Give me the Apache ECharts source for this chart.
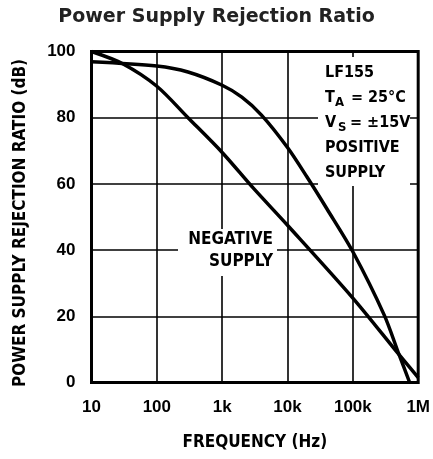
<!DOCTYPE html>
<html>
<head>
<meta charset="utf-8">
<script src="https://cdn.jsdelivr.net/npm/echarts@6/dist/echarts.min.js"></script>
</head>
<body style="margin:0;background:#fff">
<div id="container" style="width:433px;height:459px;"></div>
<script>
// decade ticks on the frequency axis
var freqTicks = [10, 100, 1000, 10000, 100000, 1000000];
var freqTickLabels = ['10', '100', '1k', '10k', '100k', '1M'];

// positive supply curve (Hz, dB)
var positiveFreq = [10, 100, 300, 1000, 2000, 4000, 10000, 20000, 40000, 100000, 300000, 510000, 740000];
var positiveDb = [96.9, 95.6, 93.8, 89.8, 86.2, 80.8, 71, 62, 52.5, 39.5, 20.5, 8.4, 0];

// negative supply curve (Hz, dB)
var negativeFreq = [10, 30, 100, 300, 1000, 3000, 10000, 100000, 510000, 1000000];
var negativeDb = [100, 96.3, 89.5, 80, 69.5, 58.7, 47.5, 25.5, 8.4, 1.5];

var condensed = 'DejaVu Sans Condensed';
var tickFont = 'Liberation Sans';

function pairs(xs, ys) {
    var out = [];
    for (var i = 0; i < xs.length; i++) out.push([xs[i], ys[i]]);
    return out;
}

function label(text, x, y, size, align) {
    return {
        type: 'text', x: x, y: y, z: 1,
        style: {
            text: text, fill: '#000', font: 'bold ' + size + 'px "' + condensed + '"',
            align: align || 'left', verticalAlign: 'middle'
        }
    };
}

var chart = echarts.init(document.getElementById('container'), null, { renderer: 'canvas' });

var option = {
    animation: false,
    backgroundColor: '#fff',
    title: {
        text: 'Power Supply Rejection Ratio',
        left: 'center',
        top: 3,
        textStyle: { fontFamily: 'DejaVu Sans', fontWeight: 'bold', fontSize: 19, color: '#222' }
    },
    grid: {
        left: 91.5, right: 11.5, top: 51.5, bottom: 76.5,
        show: true, borderColor: '#000', borderWidth: 3
    },
    xAxis: {
        type: 'log',
        logBase: 10,
        min: 10,
        max: 1000000,
        name: 'FREQUENCY (Hz)',
        nameLocation: 'middle',
        nameGap: 52,
        nameTextStyle: { fontFamily: condensed, fontWeight: 'bold', fontSize: 17, color: '#000' },
        axisLine: { show: false },
        axisTick: { show: false },
        axisLabel: {
            margin: 16,
            fontFamily: tickFont, fontWeight: 'bold', fontSize: 17, color: '#000',
            formatter: function (v) {
                var i = freqTicks.indexOf(Math.pow(10, Math.round(Math.log10(v))));
                return i >= 0 ? freqTickLabels[i] : '';
            }
        },
        splitLine: { show: true, lineStyle: { color: '#000', width: 1.6 } },
        minorTick: { show: false }
    },
    yAxis: {
        type: 'value',
        min: 0,
        max: 100,
        interval: 20,
        name: 'POWER SUPPLY REJECTION RATIO (dB)',
        nameLocation: 'middle',
        nameGap: 62,
        nameTextStyle: { fontFamily: condensed, fontWeight: 'bold', fontSize: 17, color: '#000', padding: [0, 12, 0, 0] },
        axisLine: { show: false },
        axisTick: { show: false },
        axisLabel: { margin: 16, fontFamily: tickFont, fontWeight: 'bold', fontSize: 17, color: '#000' },
        splitLine: { show: true, lineStyle: { color: '#000', width: 1.6 } }
    },
    graphic: [
        { type: 'rect', z: 1, shape: { x: 318, y: 57, width: 92, height: 129 }, style: { fill: '#fff' } },
        { type: 'rect', z: 1, shape: { x: 178, y: 229, width: 99, height: 47 }, style: { fill: '#fff' } },
        label('LF155', 325, 72.5, 16),
        label('T', 325, 97.5, 16),
        label('A', 335, 102.5, 13),
        label('= 25\u00B0C', 351, 97.5, 16),
        label('V', 325, 122.5, 16),
        label('S', 338, 128, 13),
        label('= \u00B115V', 350, 122.5, 16),
        label('POSITIVE', 325, 147.5, 16),
        label('SUPPLY', 325, 172.5, 16),
        label('NEGATIVE', 273, 239.5, 17, 'right'),
        label('SUPPLY', 273, 262, 17, 'right')
    ],
    series: [
        {
            name: 'Positive Supply',
            type: 'line',
            z: 3,
            smooth: 0.3,
            showSymbol: false,
            lineStyle: { color: '#000', width: 3.5 },
            data: pairs(positiveFreq, positiveDb)
        },
        {
            name: 'Negative Supply',
            type: 'line',
            z: 3,
            smooth: 0.3,
            showSymbol: false,
            lineStyle: { color: '#000', width: 3.5 },
            data: pairs(negativeFreq, negativeDb)
        }
    ]
};

chart.setOption(option);
</script>
</body>
</html>
